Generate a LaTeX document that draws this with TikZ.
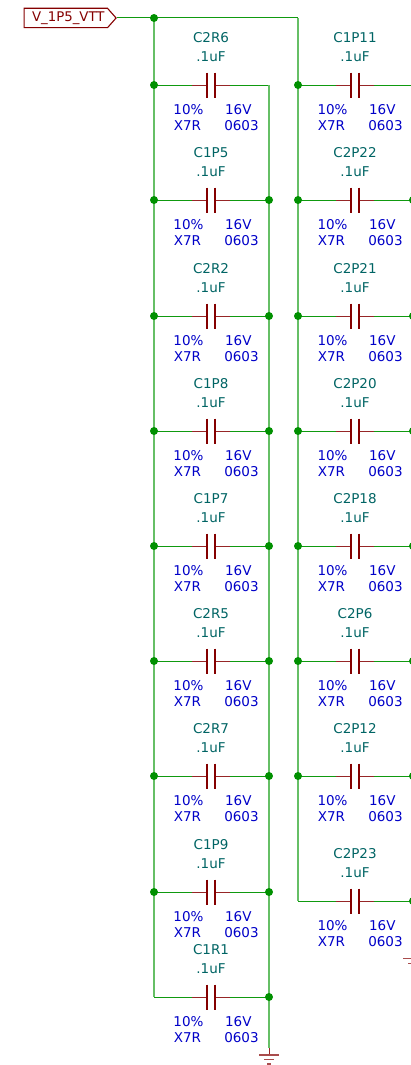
\documentclass[tikz,border=0pt]{standalone}
\usepackage{fontspec}
\usetikzlibrary{shapes.symbols}
\setmainfont{DejaVu Sans}
\definecolor{wirelight}{HTML}{66BF66}
\definecolor{wiredark}{HTML}{0F9A0F}
\definecolor{dotgreen}{HTML}{009000}
\definecolor{symred}{HTML}{840000}
\definecolor{reftext}{HTML}{006464}
\definecolor{spectext}{HTML}{0000C8}
\tikzset{
    every node/.style={inner sep=0pt},
    railwire/.style={line width=1.6pt, color=wirelight},
    capwire/.style={line width=1pt, color=wiredark},
    capplate/.style={line width=2pt, color=symred},
    capleg/.style={line width=1pt, color=symred!85},
    junction/.style={circle, minimum size=8pt, fill=dotgreen},
    refname/.style={text=reftext, font=\fontsize{13.5}{14}\selectfont},
    spec/.style={text=spectext, font=\fontsize{13.5}{14}\selectfont},
    gndsym/.style={line width=1.1pt, color=symred!70}
}
% one capacitor: name, reference, centre x, centre y
\newcommand{\capunit}[4]{
    \coordinate (#1) at (#3pt, #4pt);
    \coordinate (#1w) at ([xshift=-57pt]#1);
    \coordinate (#1e) at ([xshift=58pt]#1);
    \coordinate (#1a) at ([xshift=-19pt]#1);
    \coordinate (#1b) at ([xshift=19pt]#1);
    \coordinate (#1c) at ([xshift=-4.3pt]#1);
    \coordinate (#1d) at ([xshift=4.3pt]#1);
    \draw [capwire] (#1w) to (#1a);
    \draw [capwire] (#1b) to (#1e);
    \draw [capleg] (#1a) to (#1c);
    \draw [capleg] (#1d) to (#1b);
    \draw [capplate] ([yshift=12.5pt]#1c) to ([yshift=-12.5pt]#1c);
    \draw [capplate] ([yshift=12.5pt]#1d) to ([yshift=-12.5pt]#1d);
    \node (#1ref) [refname] at ([yshift=47.7pt]#1) {#2};
    \node (#1val) [refname] at ([yshift=28pt]#1) {.1uF};
    \node (#1tol) [spec] at ([xshift=-22.5pt, yshift=-25pt]#1) {10\%};
    \node (#1volt) [spec] at ([xshift=27.3pt, yshift=-25pt]#1) {16V};
    \node (#1diel) [spec] at ([xshift=-23.5pt, yshift=-40.5pt]#1) {X7R};
    \node (#1size) [spec] at ([xshift=30.5pt, yshift=-40.5pt]#1) {0603};
}
\begin{document}
\begin{tikzpicture}
    \useasboundingbox (0pt, 0pt) rectangle (410pt, -1065pt);
    \coordinate (topl) at (154pt, -18pt);
    \coordinate (topr) at (298pt, -18pt);
    \coordinate (gndl) at (269pt, -1048pt);
    \coordinate (gndm) at (269pt, -1055pt);
    % rails
    \capunit{c2r6}{C2R6}{211}{-85}
    \capunit{c1p5}{C1P5}{211}{-200}
    \capunit{c2r2}{C2R2}{211}{-316}
    \capunit{c1p8}{C1P8}{211}{-431}
    \capunit{c1p7}{C1P7}{211}{-546}
    \capunit{c2r5}{C2R5}{211}{-661}
    \capunit{c2r7}{C2R7}{211}{-776}
    \capunit{c1p9}{C1P9}{211}{-892}
    \capunit{c1r1}{C1R1}{211}{-997}
    \capunit{c1p11}{C1P11}{355}{-85}
    \capunit{c2p22}{C2P22}{355}{-200}
    \capunit{c2p21}{C2P21}{355}{-316}
    \capunit{c2p20}{C2P20}{355}{-431}
    \capunit{c2p18}{C2P18}{355}{-546}
    \capunit{c2p6}{C2P6}{355}{-661}
    \capunit{c2p12}{C2P12}{355}{-776}
    \capunit{c2p23}{C2P23}{355}{-901}
    \draw [railwire] (topl) to (c1r1w);
    \draw [railwire] (c2r6e) to (c1r1e);
    \draw [railwire] (c1r1e) to (gndl);
    \draw [railwire] (topr) to (c2p23w);
    \draw [capwire] (topl) to (topr);
    % port
    \node (port) [signal, signal to=east, signal pointer angle=97, draw=symred, line width=1.1pt, text=symred, font=\fontsize{13.3}{14}\selectfont, minimum width=92pt, minimum height=19.4pt, inner xsep=1pt] at (65.8pt, -18pt) {\hspace*{5pt}V\_1P5\_VTT};
    \draw [capwire] (port.east) to (topl);
    % ground
    \draw [capleg] (gndl) to (gndm);
    \coordinate (g1a) at (259pt, -1055pt);
    \coordinate (g1b) at (279pt, -1055pt);
    \coordinate (g2a) at (264pt, -1059.5pt);
    \coordinate (g2b) at (274pt, -1059.5pt);
    \coordinate (g3a) at (267pt, -1064pt);
    \coordinate (g3b) at (271pt, -1064pt);
    \coordinate (g4a) at (403pt, -958.7pt);
    \coordinate (g4b) at (423pt, -958.7pt);
    \coordinate (g5a) at (408pt, -963.2pt);
    \coordinate (g5b) at (418pt, -963.2pt);
    \draw [gndsym] (g1a) to (g1b);
    \draw [gndsym] (g2a) to (g2b);
    \draw [gndsym] (g3a) to (g3b);
    \draw [gndsym] (g4a) to (g4b);
    \draw [gndsym] (g5a) to (g5b);
    % junctions
    \node (j0) [junction] at (topl) {};
    \node (j1) [junction] at (c2r6w) {};
    \node (j2) [junction] at (c1p5w) {};
    \node (j3) [junction] at (c1p5e) {};
    \node (j4) [junction] at (c2r2w) {};
    \node (j5) [junction] at (c2r2e) {};
    \node (j6) [junction] at (c1p8w) {};
    \node (j7) [junction] at (c1p8e) {};
    \node (j8) [junction] at (c1p7w) {};
    \node (j9) [junction] at (c1p7e) {};
    \node (j10) [junction] at (c2r5w) {};
    \node (j11) [junction] at (c2r5e) {};
    \node (j12) [junction] at (c2r7w) {};
    \node (j13) [junction] at (c2r7e) {};
    \node (j14) [junction] at (c1p9w) {};
    \node (j15) [junction] at (c1p9e) {};
    \node (j16) [junction] at (c1r1e) {};
    \node (j17) [junction] at (c1p11w) {};
    \node (j18) [junction] at (c2p22w) {};
    \node (j19) [junction] at (c2p21w) {};
    \node (j20) [junction] at (c2p20w) {};
    \node (j21) [junction] at (c2p18w) {};
    \node (j22) [junction] at (c2p6w) {};
    \node (j23) [junction] at (c2p12w) {};
    \node (j24) [junction] at (c2p22e) {};
    \node (j25) [junction] at (c2p21e) {};
    \node (j26) [junction] at (c2p20e) {};
    \node (j27) [junction] at (c2p18e) {};
    \node (j28) [junction] at (c2p6e) {};
    \node (j29) [junction] at (c2p12e) {};
    \node (j30) [junction] at (c2p23e) {};
\end{tikzpicture}
\end{document}
